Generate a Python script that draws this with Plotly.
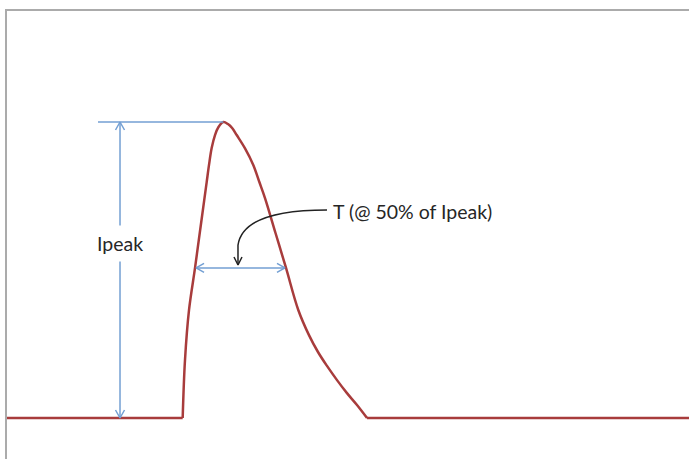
import plotly.graph_objects as go

# ---- data ----
# pulse part
time = [25.76, 26.10, 26.69, 27.57, 28.12, 28.92, 29.28, 29.62, 30.01, 30.50, 31.01,
        31.72, 32.40, 33.04, 33.68, 34.90, 36.11, 36.99, 37.83, 39.37, 40.91,
        42.71, 44.28, 45.60, 46.92, 48.39, 49.85, 51.32, 52.79]
current = [0, 0.196, 0.365, 0.507, 0.601, 0.736, 0.797, 0.855, 0.912, 0.956, 0.983,
           1.0, 0.993, 0.979, 0.956, 0.911, 0.855, 0.798, 0.743, 0.625, 0.507,
           0.365, 0.280, 0.223, 0.176, 0.128, 0.084, 0.044, 0]
# flat baseline before and after the pulse
base_time = [0, 25.76, None, 52.79, 100]
base_current = [0, 0, None, 0, 0]

ipeak_x = 16.57               # vertical Ipeak dimension line
ipeak_ref_x = [13.34, 31.72]  # horizontal reference line at peak
peak_value = 1.0
half_value = 0.507
t_left, t_right = 27.72, 40.76   # width at 50 % of Ipeak

ipeak_label = "Ipeak"
t_label = "T (@ 50% of Ipeak)"
ipeak_label_pos = (16.57, 0.588)
t_label_pos = (47.5, 0.696)

# curved pointer (cubic bezier) : start, c1, c2, end, tip
pointer_x = [46.92, 40.76, 34.46, 33.87, 33.87]
pointer_y = [0.703, 0.703, 0.679, 0.584, 0.517]

# ---- layout geometry ----
W, H = 689, 459
ML, MT, MR, MB = 7, 11, 0, 0
XR = [0, 100]
YR = [-0.1385, 1.375]
sx = (W - ML - MR) / (XR[1] - XR[0])
sy = (H - MT - MB) / (YR[1] - YR[0])

RED = "#a83c3c"
BLUE = "#739fd3"
BLACK = "#222222"


def vhead(tx, ty, ux, uy, length=8.0, half=4.5):
    """open V arrowhead; (ux,uy) screen-pixel unit direction of arrow travel"""
    px, py = -uy, ux
    xs, ys = [], []
    for s in (1, -1):
        ox = -length * ux + s * half * px
        oy = -length * uy + s * half * py
        xs += [tx + ox / sx, tx]
        ys += [ty - oy / sy, ty]
    return [xs[0], xs[1], xs[2], None], [ys[0], ys[1], ys[2], None]


fig = go.Figure()

# baseline
fig.add_trace(go.Scatter(x=base_time, y=base_current, mode="lines",
                         line=dict(color=RED, width=2.5), hoverinfo="skip"))
# pulse curve
fig.add_trace(go.Scatter(x=time, y=current, mode="lines",
                         line=dict(color=RED, width=2.5, shape="spline", smoothing=1.0),
                         hoverinfo="skip"))

# Ipeak reference line
fig.add_trace(go.Scatter(x=ipeak_ref_x, y=[peak_value, peak_value], mode="lines",
                         line=dict(color=BLUE, width=1.5), hoverinfo="skip"))
# Ipeak vertical dimension line + heads
hx1, hy1 = vhead(ipeak_x, peak_value, 0, -1)
hx2, hy2 = vhead(ipeak_x, 0, 0, 1)
fig.add_trace(go.Scatter(x=[ipeak_x, ipeak_x, None] + hx1 + hx2,
                         y=[0, peak_value, None] + hy1 + hy2, mode="lines",
                         line=dict(color=BLUE, width=1.5), hoverinfo="skip"))
# T width line + heads
hx3, hy3 = vhead(t_left, half_value, -1, 0)
hx4, hy4 = vhead(t_right, half_value, 1, 0)
fig.add_trace(go.Scatter(x=[t_left, t_right, None] + hx3 + hx4,
                         y=[half_value, half_value, None] + hy3 + hy4, mode="lines",
                         line=dict(color=BLUE, width=1.5), hoverinfo="skip"))

# curved pointer
path = "M {},{} C {},{} {},{} {},{} L {},{}".format(
    pointer_x[0], pointer_y[0], pointer_x[1], pointer_y[1],
    pointer_x[2], pointer_y[2], pointer_x[3], pointer_y[3],
    pointer_x[4], pointer_y[4])
fig.add_shape(type="path", path=path, xref="x", yref="y",
              line=dict(color=BLACK, width=1.5))
hx5, hy5 = vhead(pointer_x[4], pointer_y[4], 0, 1, length=8, half=4)
fig.add_trace(go.Scatter(x=hx5, y=hy5, mode="lines",
                         line=dict(color=BLACK, width=1.5), hoverinfo="skip"))

FONT = dict(family="Lato, 'Liberation Sans', sans-serif", size=19.5, color="#262626")
fig.add_annotation(x=ipeak_label_pos[0], y=ipeak_label_pos[1], text=ipeak_label,
                   showarrow=False, font=FONT, bgcolor="white", borderpad=6,
                   xanchor="center", yanchor="middle")
fig.add_annotation(x=t_label_pos[0], y=t_label_pos[1], text=t_label,
                   showarrow=False, font=FONT, xanchor="left", yanchor="middle")

fig.update_layout(
    width=W, height=H, margin=dict(l=ML, r=MR, t=MT, b=MB),
    paper_bgcolor="white", plot_bgcolor="white", showlegend=False,
    xaxis=dict(range=XR, side="top", showline=True, linecolor="#ababab", linewidth=2,
               showgrid=False, zeroline=False, showticklabels=False, ticks=""),
    yaxis=dict(range=YR, showline=True, linecolor="#ababab", linewidth=2,
               showgrid=False, zeroline=False, showticklabels=False, ticks=""),
)

fig.write_html("out.html", config={"displayModeBar": False},
               post_script="document.body.style.margin='0px';document.body.style.padding='0px';")
